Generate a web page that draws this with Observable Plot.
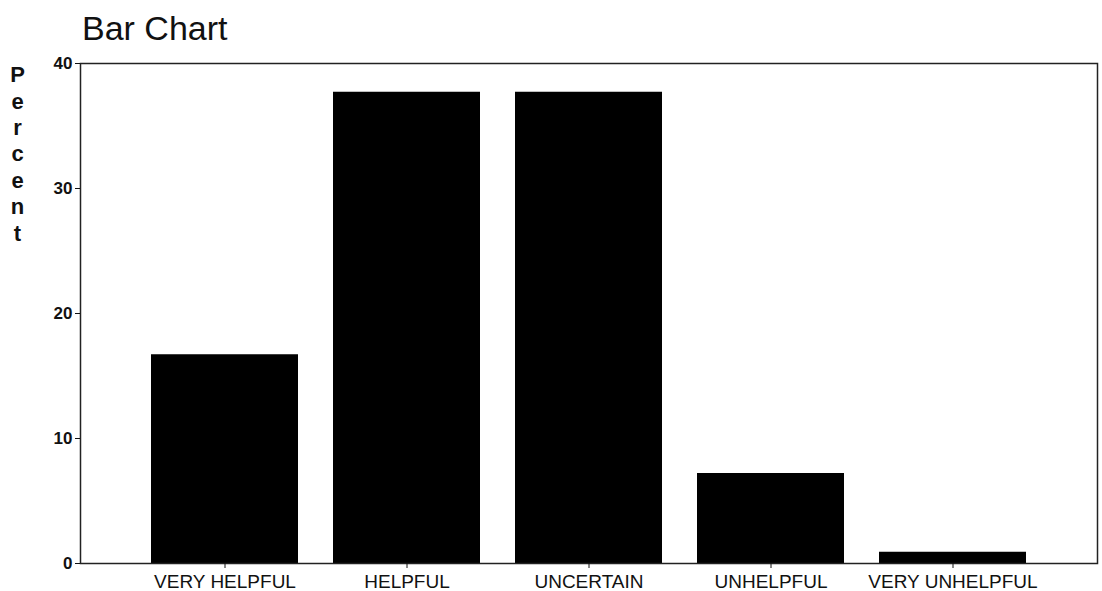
<!DOCTYPE html>
<html>
<head>
<meta charset="utf-8">
<script src="https://cdn.jsdelivr.net/npm/d3@7"></script>
<script src="https://cdn.jsdelivr.net/npm/@observablehq/plot@0.6"></script>
<style>
  html, body { margin: 0; padding: 0; background: #fff; }
  body { width: 1102px; height: 591px; overflow: hidden; font-family: "Liberation Sans", Arial, sans-serif; }
  #title { height: 50px; position: relative; }
  #title span { position: absolute; left: 82px; top: 9px; font-size: 34px; color: #111; }
</style>
</head>
<body>
<div id="title"><span>Bar Chart</span></div>
<div id="chart"></div>
<script>
const categories = ["VERY HELPFUL", "HELPFUL", "UNCERTAIN", "UNHELPFUL", "VERY UNHELPFUL"];
const percents = [16.7, 37.7, 37.7, 7.2, 0.9];
const yTicks = [0, 10, 20, 30, 40];
const yLabel = "Percent";

const data = categories.map((c, i) => ({category: c, percent: percents[i]}));

const chart = Plot.plot({
  width: 1102,
  height: 541,
  marginLeft: 80,
  marginRight: 5,
  marginTop: 13,
  marginBottom: 28,
  style: {fontFamily: "'Liberation Sans', Arial, sans-serif", color: "#111", background: "#fff"},
  x: {domain: categories, paddingInner: 0.19, paddingOuter: 0.38, label: null},
  y: {domain: [0, 40], label: null},
  marks: [
    Plot.barY(data, {x: "category", y: "percent", fill: "#000"}),
    Plot.frame({stroke: "#222", strokeWidth: 1.5}),
    Plot.axisY({ticks: yTicks, tickSize: 5, tickPadding: 3, fontSize: 17, fontWeight: "bold", label: null}),
    Plot.axisX({tickSize: 5, tickPadding: 6, fontSize: 19, label: null}),
    Plot.text([yLabel.split("").join("\n")], {
      frameAnchor: "top-left", dx: -63, dy: 0, lineHeight: 1.2,
      fontSize: 22, fontWeight: "bold", textAnchor: "middle", fill: "#111"
    })
  ]
});
document.getElementById("chart").appendChild(chart);
</script>
</body>
</html>
